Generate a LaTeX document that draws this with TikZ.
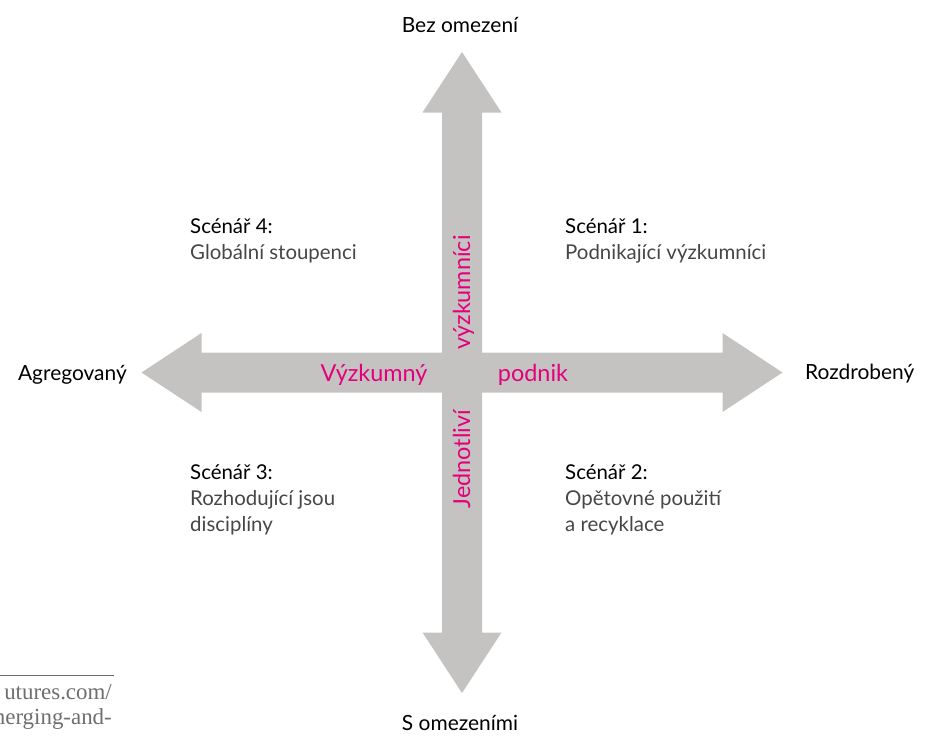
\documentclass[tikz,border=0pt]{standalone}
\usepackage{fontspec}
\setmainfont{Lato}
\newfontfamily\notefont{Liberation Serif}
\definecolor{axisgray}{RGB}{196,195,194}
\definecolor{accent}{RGB}{228,0,124}
\definecolor{bodygray}{RGB}{70,70,70}
\definecolor{notegray}{RGB}{110,110,110}
\begin{document}
\begin{tikzpicture}[x=1bp,y=-1bp,
  endlabel/.style={inner sep=0pt,font=\fontsize{21}{24}\selectfont,text=black},
  axislabel/.style={inner sep=0pt,font=\fontsize{23.5}{26}\selectfont,text=accent},
  sctitle/.style={inner sep=0pt,anchor=base west,font=\fontsize{20.5}{26}\selectfont,text=black},
  scbody/.style={inner sep=0pt,anchor=base west,font=\fontsize{20.5}{26}\selectfont,text=bodygray},
  note/.style={inner sep=0pt,anchor=base east,font=\notefont\fontsize{23}{28}\selectfont,text=notegray}]
\useasboundingbox (0,0) rectangle (932,737);
\clip (0,0) rectangle (932,737);

% horizontal double arrow, centred on (462,372.5)
\fill[axisgray] (141.5,372.5) -- (201.5,333) -- (201.5,352.5) -- (722.5,352.5)
  -- (722.5,333) -- (782.5,372.5) -- (722.5,412) -- (722.5,392.5)
  -- (201.5,392.5) -- (201.5,412) -- cycle;
% vertical double arrow
\fill[axisgray] (462,52) -- (501.5,112.5) -- (482,112.5) -- (482,632.5)
  -- (501.5,632.5) -- (462,693) -- (422.5,632.5) -- (442,632.5)
  -- (442,112.5) -- (422.5,112.5) -- cycle;

% axis end labels
\node[endlabel,anchor=base] (top) at (460,33) {Bez omezení};
\node[endlabel,anchor=base] (bottom) at (460,730) {S omezeními};
\node[endlabel,anchor=base east] (left) at (127,380) {Agregovaný};
\node[endlabel,anchor=base west] (right) at (805,379) {Rozdrobený};

% labels on the arms
\node[axislabel,anchor=base] (ax1) at (374,381) {Výzkumný};
\node[axislabel,anchor=base] (ax2) at (533,381) {podnik};
\node[axislabel,anchor=base,rotate=90] (ax3) at (470,292.5) {výzkumníci};
\node[axislabel,anchor=base,rotate=90] (ax4) at (470,459) {Jednotliví};

% scenarios
\node[sctitle] (s4) at (190,233) {Scénář 4:};
\node[scbody]  (s4b) at (190,259) {Globální stoupenci};
\node[sctitle] (s1) at (565,233) {Scénář 1:};
\node[scbody]  (s1b) at (565,259) {Podnikající výzkumníci};
\node[sctitle] (s3) at (190,479) {Scénář 3:};
\node[scbody]  (s3b) at (190,505) {Rozhodující jsou};
\node[scbody]  (s3c) at (190,531) {disciplíny};
\node[sctitle] (s2) at (565,479) {Scénář 2:};
\node[scbody]  (s2b) at (565,505) {Opětovné použití};
\node[scbody]  (s2c) at (565,531) {a recyklace};

% footnote remnant
\coordinate (r1) at (0,675);
\coordinate (r2) at (114,675);
\draw[notegray,line width=0.8bp] (r1) -- (r2);
\node[note] (n1) at (112,699) {utures.com/};
\node[note] (n2) at (112,724) {merging-and-};
\end{tikzpicture}
\end{document}
